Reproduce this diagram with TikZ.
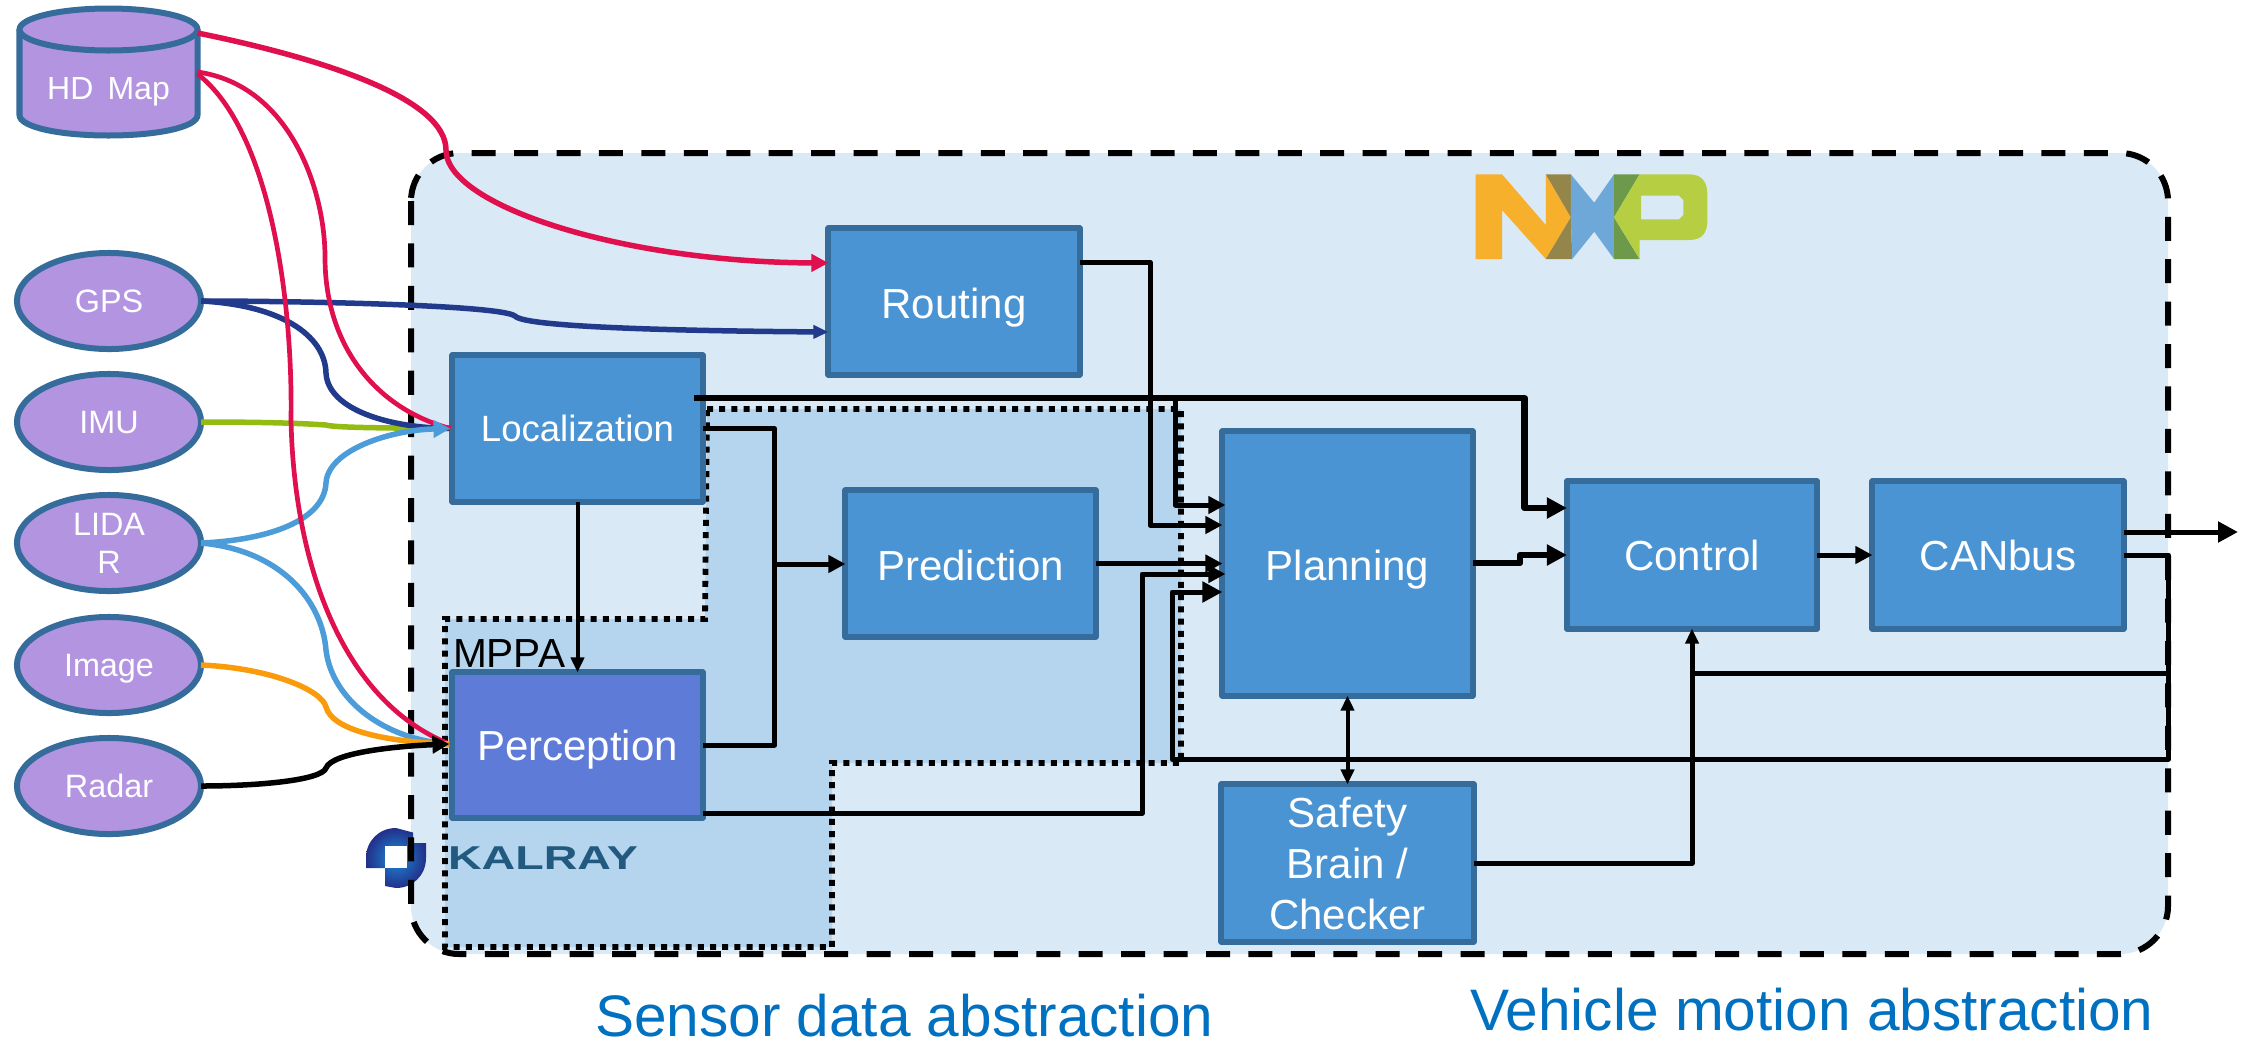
\documentclass[tikz,border=0pt]{standalone}
\usepackage{graphicx}
\usepackage{fontspec}
\setmainfont{Liberation Sans}
\usetikzlibrary{arrows.meta,calc,shapes.geometric}
\definecolor{basefill}{HTML}{DAE9F6}
\definecolor{mppafill}{HTML}{B5D4EE}
\definecolor{boxfill}{HTML}{4A94D3}
\definecolor{percfill}{HTML}{5F7BD8}
\definecolor{edgeblue}{HTML}{356C9B}
\definecolor{purplefill}{HTML}{B394E0}
\definecolor{redline}{HTML}{E0104F}
\definecolor{navyline}{HTML}{213A8C}
\definecolor{greenline}{HTML}{94BB12}
\definecolor{skyline}{HTML}{4B9CD8}
\definecolor{orangeline}{HTML}{F99B0B}
\definecolor{titleblue}{HTML}{0070C0}
\definecolor{kalraytext}{HTML}{22597F}
\definecolor{logonavy}{HTML}{22308A}
\definecolor{logobright}{HTML}{1E8AD8}
\tikzset{
  x=0.01cm,y=-0.01cm,
  every node/.style={inner sep=0pt,outer sep=0pt},
  boxnode/.style={draw=edgeblue,fill=boxfill,line width=0.06cm,text=white,line join=round,
    font=\fontsize{11.95}{14.5}\selectfont},
  onetext/.style={text height=8.6pt,text depth=0pt},
  sensor/.style={ellipse,draw=edgeblue,fill=purplefill,line width=0.06cm,text=white,
    minimum width=1.84cm,minimum height=0.96cm,align=center,
    font=\fontsize{9.2}{10.8}\selectfont},
  sensorone/.style={sensor,text height=6.6pt,text depth=0pt},
  wire/.style={draw=black,line width=0.05cm,line join=round},
  thickwire/.style={draw=black,line width=0.065cm,line join=round},
  thinwire/.style={draw=black,line width=0.04cm},
  curve/.style={line width=0.055cm},
  thincurve/.style={line width=0.047cm},
  tipS/.tip={Triangle[length=0.15cm,width=0.13cm]},
  tipM/.tip={Triangle[length=0.17cm,width=0.17cm]},
  tipL/.tip={Triangle[length=0.2cm,width=0.2cm]},
  title/.style={text=titleblue,font=\fontsize{16.65}{20}\selectfont,anchor=base west},
}
\begin{document}
\begin{tikzpicture}
\useasboundingbox (0,0) rectangle (2249,1042);
% main region fill
\fill[basefill,rounded corners=0.48cm] (411,153) rectangle (2168,954);
% Kalray logo
\shade[inner color=logobright,outer color=logonavy]
  (366,858) .. controls (366,841) and (379,828) .. (396,828) -- (413,832.5) -- (413,843) -- (426,843) -- (426,858)
  .. controls (426,875) and (413,888) .. (396,888) -- (385,886) -- (385,868) -- (366.5,868) -- cycle;
\fill[white] (385,846) rectangle (407,868);
% main region outline
\draw[draw=black,line width=0.06cm,dash pattern=on 0.24cm off 0.184cm,rounded corners=0.48cm]
  (411,153) rectangle (2168,954);
% MPPA region
\draw[fill=mppafill,draw=black,line width=0.058cm,dash pattern=on 0.06cm off 0.062cm]
  (707,409) -- (1181,409) -- (1181,763) -- (832,763) -- (832,947) -- (445,947) -- (445,619) -- (705,619) -- cycle;
% NXP logo
\fill[fill={rgb,255:red,247;green,176;blue,44}]
  (1475.5,174.3) -- (1502,174.3) -- (1545.8,225) -- (1545.8,174.3) -- (1570.8,217.3) -- (1545.8,259) -- (1502,210) -- (1502,259) -- (1475.5,259) -- cycle;
\fill[fill={rgb,255:red,148;green,134;blue,74}]
  (1545.8,174.3) -- (1570.8,174.3) -- (1570.8,217.3) -- cycle
  (1570.8,217.3) -- (1545.8,259) -- (1572.3,259) -- cycle;
\fill[fill={rgb,255:red,109;green,168;blue,216}]
  (1570.8,174.3) -- (1594.2,202.7) -- (1614,174.3) -- (1614,259) -- (1594.2,231.7) -- (1572.3,259) -- (1570.8,217.3) -- cycle;
\fill[fill={rgb,255:red,109;green,153;blue,74}]
  (1614,174.3) -- (1639.6,174.3) -- (1614,217.3) -- cycle
  (1614,217.3) -- (1639.6,259) -- (1614,259) -- cycle;
\fill[even odd rule,fill={rgb,255:red,182;green,207;blue,66}]
  (1614,217.3) -- (1639.6,174.3) -- (1689,174.3) .. controls (1702,174.3) and (1707.4,182) .. (1707.4,195) -- (1707.4,220)
  .. controls (1707.4,233) and (1702,240) .. (1689,240) -- (1639.6,240) -- (1639.6,259) -- cycle
  (1641,195.7) -- (1679,195.7) -- (1683.4,200) -- (1683.4,215) -- (1679,219.3) -- (1641,219.3) -- cycle;
\node[text=kalraytext,font=\bfseries\fontsize{9.4}{11}\selectfont,anchor=base west] (kal) at (448,869) {\scalebox{1.41}[1]{KALRAY}};
% cylinder
\draw[draw=edgeblue,fill=purplefill,line width=0.06cm]
  (19.5,29.5) -- (19.5,115) .. controls (19.5,127) and (59,135.5) .. (108.5,135.5) .. controls (158,135.5) and (197.5,127) .. (197.5,115) -- (197.5,29.5);
\draw[draw=edgeblue,fill=purplefill,line width=0.06cm] (108.5,29.5) ellipse [x radius=89,y radius=21];
\node[text=white,font=\fontsize{9.1}{10.8}\selectfont,minimum width=1.78cm,text height=6.6pt,text depth=0pt] (hd) at (108.5,88) {HD \,Map};
% sensors
\node[sensorone] (gps) at (109,301) {GPS};
\node[sensorone] (imu) at (109,422) {IMU};
\node[sensor] (lid) at (109,543) {LIDA\\R};
\node[sensorone] (img) at (109,665) {Image};
\node[sensorone] (rad) at (109,786) {Radar};
% boxes
\node[boxnode,text height=9.4pt,text depth=0pt,minimum width=2.51cm,minimum height=1.46cm] (rout) at (954,301.5) {Routing};
\node[boxnode,text height=7.45pt,text depth=0pt,minimum width=2.5cm,minimum height=1.46cm,font=\fontsize{10.4}{12}\selectfont] (loc) at (577.5,428.5) {Localization};
\node[boxnode,onetext,fill=percfill,minimum width=2.5cm,minimum height=1.45cm] (perc) at (577.5,745) {Perception};
\node[boxnode,text height=9.6pt,text depth=0pt,minimum width=2.5cm,minimum height=1.46cm] (pred) at (970.5,563.5) {Prediction};
\node[boxnode,text height=9.6pt,text depth=0pt,minimum width=2.5cm,minimum height=2.64cm] (plan) at (1347.5,563.5) {Planning};
\node[boxnode,onetext,minimum width=2.5cm,minimum height=1.47cm] (ctrl) at (1692,555) {Control};
\node[boxnode,onetext,minimum width=2.51cm,minimum height=1.47cm] (can) at (1998,555) {CANbus};
\node[boxnode,minimum width=2.52cm,minimum height=1.57cm,align=center] (safe) at (1347.5,863) {Safety\\Brain /\\Checker};
% labels
\node[font=\fontsize{11.55}{14}\selectfont,anchor=base west] (mppa) at (453,667) {MPPA};
\node[title] (tsens) at (595,1036) {Sensor data abstraction};
\node[title] (tveh) at (1470,1030) {Vehicle motion abstraction};
% entry points
\coordinate (lin) at ($(loc.west)+(-2,0)$);
\coordinate (pin) at ($(perc.west)+(-3,-1)$);
\coordinate (outr) at (2238,532);
% coloured curves
\draw[redline,curve,-{tipM}] (hd.east |- 0,33) .. controls (330,60) and (446,100) .. (446,150) .. controls (446,205) and (620,262) .. (rout.west |- 0,263);
\draw[navyline,curve,-{tipS}] (gps.east) .. controls (300,301) and (500,305) .. (515,316) .. controls (525,328) and (700,331) .. (rout.west |- 0,332);
\draw[greenline,curve] (imu.east) .. controls (280,422) and (310,424) .. (326,425) .. controls (335,428) and (400,428) .. (lin);
\draw[navyline,curve] (gps.east) .. controls (280,305) and (325,335) .. (326,373) .. controls (328,410) and (390,428) .. (lin);
\draw[redline,thincurve] (hd.east |- 0,72) .. controls (290,85) and (325,190) .. (325,257) .. controls (325,350) and (380,410) .. (lin);
\draw[skyline,curve,-{tipM}] (lid.east) .. controls (270,540) and (324,520) .. (326,483) .. controls (328,450) and (390,430) .. (lin);
\draw[skyline,curve] (lid.east) .. controls (280,550) and (322,600) .. (326,650) .. controls (332,700) and (385,740) .. (pin);
\draw[redline,thincurve] (hd.east |- 0,74) .. controls (270,130) and (293,300) .. (291,420) .. controls (294,560) and (340,700) .. (pin);
\draw[orangeline,curve] (img.east) .. controls (270,668) and (322,690) .. (326,707) .. controls (332,730) and (385,742) .. (pin);
\draw[black,curve,-{tipM}] (rad.east) .. controls (260,786) and (322,780) .. (326,768) .. controls (332,752) and (400,746) .. (pin);
% black connectors
\draw[wire,-{tipM}] (rout.east |- 0,262) -| (1150,525) -- (plan.west |- 0,525);
\draw[thickwire,-{tipL}] ($(loc.east |- 0,398)+(-9,0)$) -| (1524.5,508) -- (ctrl.west |- 0,508);
\draw[wire,-{tipM}] (1175.5,398) -- (1175.5,505) -- ($(plan.west |- 0,505)+(3,0)$);
\draw[wire] (loc.east) -| (774.5,745) -- (perc.east);
\draw[wire,-{tipM}] (774.5,564) -- (pred.west |- 0,564);
\draw[thinwire,-{tipS}] (loc.south) -- (perc.north);
\draw[wire,-{tipM}] (perc.east |- 0,813) -| (1142,574) -- ($(plan.west |- 0,574)+(3,0)$);
\draw[wire,-{tipM}] (pred.east) -- (plan.west |- pred.east);
\draw[wire,-{tipL}] (can.east) -| (2168.5,759) -| (1172,592) -- (plan.west |- 0,592);
\draw[wire,-{tipL}] (can.east |- 0,532) -- (outr);
\draw[wire,-{tipM}] (ctrl.east) -- (can.west);
\draw[thickwire,-{tipL}] (plan.east |- 0,563) -- (1520,563) -- (1520,555) -- (ctrl.west);
\draw[wire] (2168.5,673) -- (1692,673);
\draw[wire,-{tipS}] (safe.east) -| (ctrl.south);
\draw[thinwire,{tipS}-{tipS}] (plan.south) -- (safe.north);
\end{tikzpicture}
\end{document}
